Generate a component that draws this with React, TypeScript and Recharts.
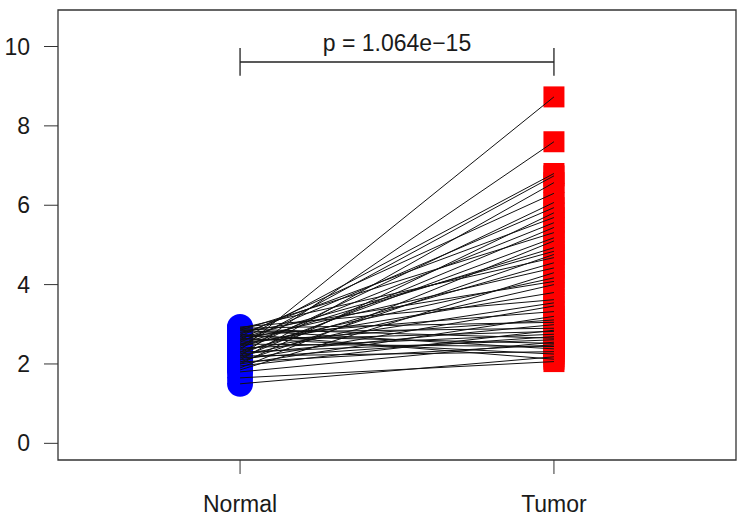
import React from 'react';
import { ScatterChart, Scatter, XAxis, YAxis, ReferenceArea, ReferenceLine } from 'recharts';

// paired expression values, one entry per sample
const normalValues = [
  2.35, 2.2, 2.6, 2.45, 2.1, 2.7, 2.3, 2.55, 2.0, 2.75, 2.4, 2.15, 2.85, 2.25, 1.9, 2.5, 2.65,
  2.05, 2.9, 2.3, 2.6, 1.85, 2.45, 2.8, 2.2, 2.5, 2.93, 2.35, 2.1, 2.7, 2.0, 2.55, 2.9, 2.25,
  2.8, 1.95, 2.6, 2.4, 2.15, 2.88, 2.3, 1.8, 2.7, 2.05, 2.5, 2.85, 2.2, 2.65, 1.5, 2.75, 1.65,
];
const tumorValues = [
  8.73, 7.6, 6.8, 6.74, 6.57, 6.3, 6.07, 5.94, 5.81, 5.69, 5.56, 5.44, 5.31, 5.18, 5.1, 4.93, 4.84,
  4.76, 4.68, 4.55, 4.42, 4.3, 4.17, 4.08, 4.0, 3.8, 3.62, 3.54, 3.46, 3.32, 3.2, 3.11, 3.05, 2.99,
  2.9, 2.85, 2.82, 2.75, 2.69, 2.65, 2.61, 2.55, 2.52, 2.48, 2.44, 2.38, 2.31, 2.25, 2.18, 2.12, 2.06,
];
const groupLabels = ['Normal', 'Tumor'];
const yTicks = [0, 2, 4, 6, 8, 10];
const pLabel = 'p = 1.064e\u221215';

const FONT = '"Liberation Sans", Arial, Helvetica, sans-serif';

const normalPoints = normalValues.map((v) => ({ x: 1, y: v }));
const tumorPoints = tumorValues.map((v) => ({ x: 2, y: v }));
const pairs = normalValues.map((v, i) => [
  { x: 1, y: v },
  { x: 2, y: tumorValues[i] },
]);

const Circle = (props: any) => <circle cx={props.cx} cy={props.cy} r={13} fill="#0000ff" />;
const Square = (props: any) => (
  <rect x={props.cx - 10.5} y={props.cy - 10.5} width={21} height={21} fill="#ff0000" />
);
const NoDot = () => <g />;

const App: React.FC = () => {
  return (
    <div style={{ position: 'absolute', left: 0, top: 0, background: '#fff', fontFamily: FONT }}>
      <ScatterChart width={750} height={525} margin={{ top: 10, right: 14, left: 0, bottom: 0 }}>
        <XAxis
          type="number"
          dataKey="x"
          domain={[0.42, 2.58]}
          ticks={[1, 2]}
          tickFormatter={(v: number) => groupLabels[v - 1]}
          axisLine={false}
          tickSize={14}
          tickMargin={22}
          tickLine={{ stroke: '#333' }}
          tick={{ fontSize: 23, fill: '#1a1a1a', fontFamily: FONT }}
          height={65}
          allowDataOverflow
        />
        <YAxis
          type="number"
          dataKey="y"
          domain={[-0.42, 10.92]}
          ticks={yTicks}
          axisLine={false}
          tickSize={14}
          tickMargin={14}
          tickLine={{ stroke: '#333' }}
          tick={{ fontSize: 23, fill: '#1a1a1a', fontFamily: FONT }}
          width={58}
          allowDataOverflow
        />
        <ReferenceArea x1={0.42} x2={2.58} y1={-0.42} y2={10.92} fill="none" stroke="#333" strokeWidth={1.3} />
        <Scatter data={normalPoints} shape={Circle} isAnimationActive={false} />
        <Scatter data={tumorPoints} shape={Square} isAnimationActive={false} />
        {pairs.map((p, i) => (
          <Scatter
            key={i}
            data={p}
            shape={NoDot}
            line={{ stroke: '#111', strokeWidth: 1 }}
            isAnimationActive={false}
          />
        ))}
        <ReferenceLine
          segment={[{ x: 1, y: 9.61 }, { x: 2, y: 9.61 }]}
          stroke="#222"
          strokeWidth={1.3}
          label={{ value: pLabel, position: 'top', offset: 11, fontSize: 23, fill: '#1a1a1a', fontFamily: FONT }}
        />
        <ReferenceLine segment={[{ x: 1, y: 9.26 }, { x: 1, y: 9.96 }]} stroke="#222" strokeWidth={1.3} />
        <ReferenceLine segment={[{ x: 2, y: 9.26 }, { x: 2, y: 9.96 }]} stroke="#222" strokeWidth={1.3} />
      </ScatterChart>
    </div>
  );
};

export default App;
